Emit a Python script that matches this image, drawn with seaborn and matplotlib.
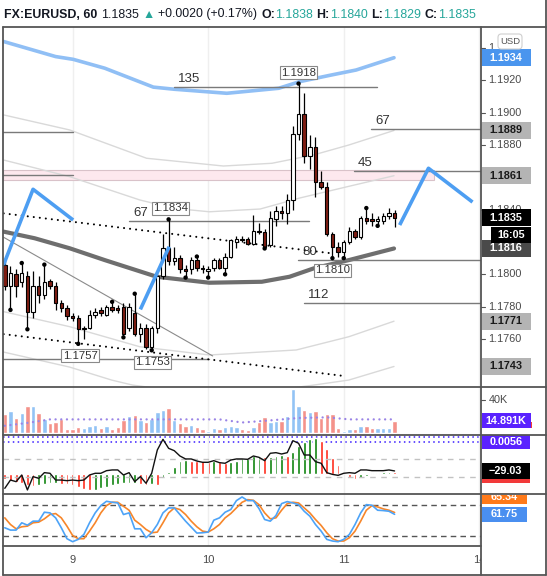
import matplotlib
matplotlib.use("Agg")
import numpy as np
import pandas as pd
import matplotlib.pyplot as plt
import seaborn as sns
from matplotlib.patches import Rectangle, FancyBboxPatch
from matplotlib.transforms import blended_transform_factory as btf

# ---------------- data ----------------
symbol = "FX:EURUSD, 60"
opens = [1.1806, 1.1793, 1.1800, 1.1795, 1.1799, 1.1777, 1.1793, 1.1787, 1.1796, 1.1793,
         1.1782, 1.1779, 1.1774, 1.1773, 1.1766, 1.1767, 1.1775, 1.1778, 1.1775, 1.1780,
         1.1779, 1.1780, 1.1767, 1.1776, 1.1763, 1.1767, 1.1755, 1.1767, 1.1799, 1.1816,
         1.1808, 1.1810, 1.1803, 1.1803, 1.1809, 1.1804, 1.1802, 1.1804, 1.1809, 1.1804,
         1.1811, 1.1820, 1.1822, 1.1822, 1.1819, 1.1827, 1.1826, 1.1818, 1.1834, 1.1839,
         1.1838, 1.1846, 1.1887, 1.1899, 1.1873, 1.1879, 1.1857, 1.1854, 1.1825, 1.1817,
         1.1814, 1.1820, 1.1827, 1.1823, 1.1835, 1.1834, 1.1833, 1.1833, 1.1836, 1.1838]
highs = [1.1809, 1.1805, 1.1803, 1.1807, 1.1802, 1.1802, 1.1799, 1.1806, 1.1797, 1.1795,
         1.1784, 1.1781, 1.1776, 1.1775, 1.1768, 1.1778, 1.1779, 1.1780, 1.1781, 1.1783,
         1.1781, 1.1782, 1.1782, 1.1788, 1.1770, 1.1769, 1.1768, 1.1800, 1.1825, 1.1834,
         1.1817, 1.1812, 1.1806, 1.1811, 1.1811, 1.1806, 1.1805, 1.1810, 1.1810, 1.1813,
         1.1822, 1.1824, 1.1824, 1.1823, 1.1837, 1.1832, 1.1828, 1.1839, 1.1842, 1.1842,
         1.1850, 1.1892, 1.1918, 1.1912, 1.1886, 1.1885, 1.1864, 1.1857, 1.1826, 1.1820,
         1.1821, 1.1829, 1.1828, 1.1836, 1.1841, 1.1838, 1.1836, 1.1838, 1.1841, 1.1840]
lows = [1.1790, 1.1778, 1.1786, 1.1792, 1.1766, 1.1773, 1.1782, 1.1785, 1.1791, 1.1778,
        1.1777, 1.1772, 1.1771, 1.1757, 1.1760, 1.1766, 1.1773, 1.1774, 1.1774, 1.1777,
        1.1776, 1.1761, 1.1765, 1.1762, 1.1758, 1.1754, 1.1753, 1.1764, 1.1797, 1.1806,
        1.1806, 1.1801, 1.1798, 1.1800, 1.1802, 1.1801, 1.1798, 1.1802, 1.1803, 1.1800,
        1.1810, 1.1816, 1.1820, 1.1818, 1.1818, 1.1825, 1.1816, 1.1817, 1.1830, 1.1834,
        1.1831, 1.1840, 1.1883, 1.1869, 1.1865, 1.1848, 1.1853, 1.1824, 1.1810, 1.1811,
        1.1810, 1.1819, 1.1822, 1.1822, 1.1831, 1.1830, 1.1830, 1.1831, 1.1834, 1.1829]
closes = [1.1793, 1.1801, 1.1793, 1.1801, 1.1777, 1.1793, 1.1787, 1.1795, 1.1793, 1.1782,
          1.1779, 1.1774, 1.1773, 1.1766, 1.1767, 1.1775, 1.1777, 1.1776, 1.1780, 1.1778,
          1.1778, 1.1763, 1.1780, 1.1763, 1.1767, 1.1755, 1.1767, 1.1799, 1.1816, 1.1808,
          1.1810, 1.1803, 1.1802, 1.1809, 1.1804, 1.1803, 1.1803, 1.1809, 1.1804, 1.1811,
          1.1821, 1.1822, 1.1821, 1.1819, 1.1827, 1.1826, 1.1817, 1.1835, 1.1839, 1.1838,
          1.1846, 1.1887, 1.1899, 1.1873, 1.1879, 1.1857, 1.1854, 1.1825, 1.1817, 1.1814,
          1.1820, 1.1827, 1.1823, 1.1835, 1.1833, 1.1833, 1.1834, 1.1836, 1.1838, 1.1835]
prev_close = 1.1815
volume_k = [22.8, 26.5, 17.5, 24.5, 32.6, 32.6, 23.6, 16.3, 12.2, 13.5,
            16.3, 4.5, 4.5, 7.3, 6.1, 8.2, 9.4, 6.1, 8.2, 4.5,
            6.5, 15.5, 20.4, 21.6, 15.5, 13.5, 16.3, 25.7, 27.7, 30.6,
            15.5, 12.2, 8.2, 9.4, 7.3, 4.5, 2.4, 6.1, 4.5, 7.3,
            8.2, 7.3, 4.5, 3.3, 7.3, 12.6, 18.8, 12.6, 14.7, 14.7,
            20.8, 53.4, 32.6, 27.7, 25.7, 26.5, 17.5, 22.4, 22.8, 6.1,
            2.4, 4.1, 4.1, 8.2, 8.2, 6.1, 5.3, 5.3, 6.1, 14.891]
vol_ma_x = [0, 4, 8, 24, 38, 42, 46, 52, 57, 61, 69]
vol_ma_k = [8.5, 12.0, 16.3, 16.3, 16.3, 12.5, 14.5, 18.0, 18.8, 16.3, 16.3]
hist_e4 = [-9.3, -11.7, -14.6, -16.3, -18.7, -21.0, -19.8, -17.5, -16.3, -15.2,
           -16.9, -18.1, -19.8, -23.3, -26.8, -28.0, -27.4, -24.5, -22.2, -19.2,
           -17.5, -16.3, -15.7, -15.2, -16.9, -18.7, -17.5, -19.2, -7.6, 4.1,
           12.8, 22.2, 23.9, 23.3, 22.7, 22.2, 21.6, 22.2, 20.4, 19.2,
           21.6, 23.3, 27.4, 28.0, 30.9, 31.5, 29.2, 30.3, 30.9, 32.6,
           32.1, 39.1, 49.6, 56.6, 61.2, 62.4, 57.1, 43.7, 28.0, 15.7,
           4.1, -4.7, -8.7, -7.0, -2.9, 1.2, 1.5, 2.9, 4.1, 3.5]
hist_levels = [0.0056, 0.0064]
cci = [-222, -130, -148, -74, -240, -92, -111, -48, -55, -130,
       -130, -137, -130, -137, -130, -74, -55, -55, -26, -18,
       -18, -74, -48, -148, -92, -166, -55, 204, 322, 222,
       196, 137, 104, 104, 81, 67, 67, 85, 63, 56,
       92, 104, 104, 100, 137, 122, 85, 167, 174, 159,
       174, 307, 278, 148, 148, 74, 56, -48, -67, -78,
       -55, -48, -55, -18, -18, -26, -26, -26, -18, -29.03]
stoch_k = [35.5, 31.0, 31.0, 45.2, 40.6, 48.4, 48.4, 65.8, 64.5, 54.8,
           35.5, 14.2, 8.4, 12.9, 22.6, 45.2, 64.5, 78.7, 87.1, 85.2,
           83.9, 61.3, 64.5, 33.5, 33.5, 16.1, 25.8, 41.9, 64.5, 74.2,
           74.2, 61.3, 48.4, 36.8, 25.2, 25.8, 27.1, 50.3, 54.8, 65.8,
           71.0, 88.4, 95.5, 88.4, 88.4, 72.9, 51.6, 48.4, 59.4, 82.6,
           86.5, 83.9, 80.6, 67.7, 58.1, 41.9, 29.0, 12.9, 9.7, 8.4,
           12.9, 22.6, 41.9, 64.5, 80.6, 79.4, 69.7, 69.0, 67.7, 61.75]
stoch_d = [54.8, 41.9, 33.5, 37.4, 38.7, 45.2, 46.5, 52.9, 61.3, 63.2,
           54.8, 38.7, 20.6, 14.2, 14.2, 29.0, 45.2, 64.5, 78.7, 85.2,
           85.2, 77.4, 69.7, 50.3, 41.9, 32.3, 25.8, 27.1, 45.2, 64.5,
           74.2, 71.0, 61.3, 48.4, 37.4, 29.0, 27.1, 33.5, 41.9, 54.8,
           63.2, 74.2, 85.2, 90.3, 89.0, 80.6, 64.5, 52.9, 54.8, 69.7,
           82.6, 85.2, 83.9, 74.2, 64.5, 51.6, 40.0, 25.8, 14.2, 9.7,
           9.7, 16.1, 29.0, 48.4, 69.7, 78.7, 76.1, 72.3, 69.7, 65.34]
stoch_levels = [80, 20]
cci_levels = [100, -100]
fractal_high_idx = [3, 7, 19, 23, 29, 34, 52, 64]
fractal_low_idx = [1, 4, 13, 21, 26, 32, 36, 39, 46, 58, 60, 66]
labelled_highs = [52, 29]
labelled_lows = [58, 13, 26]
day_ticks = [12, 36, 60, 84]
day_labels = ["9", "10", "11", "14"]
countdown = "16:05"

# band / average lines (bar position, price)
upper_band_x = [-0.2, 9, 12.1, 17.7, 26.3, 30, 39.3, 48.5, 52.2, 57.8, 62.2, 68.9]
upper_band_y = [1.19440, 1.19347, 1.19330, 1.19275, 1.19158, 1.19145, 1.19120, 1.19151,
                1.19192, 1.19233, 1.19264, 1.19340]
env1_x = [-0.2, 11.5, 25.1, 38.7, 47.3, 54.7, 60.9, 68.9]
env1_y = [1.18986, 1.18893, 1.18718, 1.18670, 1.18687, 1.18739, 1.18800, 1.18890]
env2_x = [-0.2, 11.5, 23.9, 30.0, 36.2, 45.2, 52.2, 61.1, 68.9]
env2_y = [1.18707, 1.18604, 1.18460, 1.18408, 1.18387, 1.18404, 1.18472, 1.18546, 1.18610]
ma_x = [-0.2, 5.3, 11.5, 17.7, 26.9, 36.2, 45.5, 50.4, 54.7, 60.9, 68.9]
ma_y = [1.18264, 1.18223, 1.18161, 1.18088, 1.17985, 1.17948, 1.17954, 1.17985, 1.18037,
        1.18088, 1.18160]
env3_x = [-0.2, 11.5, 23.9, 36.2, 51.6, 60.9, 68.9]
env3_y = [1.17769, 1.17676, 1.17552, 1.17501, 1.17532, 1.17614, 1.17710]
env4_x = [-0.2, 11.5, 18.9, 22.6, 30, 45, 54.7, 60.9, 68.9]
env4_y = [1.17519, 1.17426, 1.17346, 1.17315, 1.17280, 1.17270, 1.17315, 1.17346, 1.17430]

# drawings
zig_a_x, zig_a_y = [-0.23, 5.0, 12.1], [1.18058, 1.18526, 1.18336]
zig_b_x, zig_b_y = [24.0, 29.1], [1.17783, 1.18171]
zig_c_x, zig_c_y = [69.9, 75.0, 82.8], [1.18305, 1.18656, 1.18447]
trend_up_x, trend_up_y = [-0.2, 57.6], [1.18377, 1.18131]
trend_dn_x, trend_dn_y = [-0.2, 60.3], [1.17630, 1.17370]
thin_diag_x, thin_diag_y = [-0.2, 36.8], [1.18229, 1.17495]
zone_x = [-0.32, 76.0]
zone_y = [1.18582, 1.18644]
level_names = ["135", "67", "45", "67", "80", "112", "", "", ""]
level_price = [1.19160, 1.18900, 1.18638, 1.18330, 1.18088, 1.17820, 1.18883, 1.18617, 1.17476]
level_x0 = [30.0, 64.9, 61.8, 22.0, 51.9, 52.9, -0.32, -0.32, -0.32]
level_x1 = [65.9, 84.3, 84.3, 53.8, 84.3, 84.3, 12.1, 12.1, 36.2]
# visible price-scale ticks (the others are covered by value boxes)
price_ticks = [1.1760, 1.1780, 1.1800, 1.1880, 1.1900, 1.1920]
half_hidden_tick = 1.1840
cut_tick = 1.1940

# ---------------- figure ----------------
sns.set_theme(style="white")
plt.rcParams["font.family"] = ["Liberation Sans", "DejaVu Sans"]

W, H = 547, 576
fig = plt.figure(figsize=(W / 100, H / 100), dpi=100)
fig.patch.set_facecolor("white")
XL, XR, XE = 3, 481, 545.5
XLIM = (-0.32, 84.3)
TXT = "#4a4a4a"
RED_C = "#7f1d12"


def pane(top, bottom):
    a = fig.add_axes([XL / W, 1 - bottom / H, (XR - XL) / W, (bottom - top) / H])
    a.set_axis_off()
    a.set_xlim(*XLIM)
    return a


P_MAIN, P_VOL, P_OSC, P_STO = (27, 387), (387, 435), (435, 494), (494, 546)
ax = pane(*P_MAIN)
axv = pane(*P_VOL)
axo = pane(*P_OSC)
axh = axo.twinx()
axh.set_axis_off()
axh.set_xlim(*XLIM)
axs = pane(*P_STO)

ax.set_ylim(1.17303, 1.19530)
axv.set_ylim(-2.8, 55.9)
axo.set_ylim(-285, 370)
axh.set_ylim(-35.0e-4, 68.2e-4)
axs.set_ylim(0, 101.3)

bars = np.arange(len(closes))
o, h, l, c = map(np.array, (opens, highs, lows, closes))
up = c >= o

for a in (ax, axv, axo, axs):
    for d in day_ticks:
        a.axvline(d, color="#efefef", lw=1, zorder=0)

# pink zone
ax.add_patch(Rectangle((zone_x[0], zone_y[0]), zone_x[1] - zone_x[0], zone_y[1] - zone_y[0],
                       fc="#fde8ee", ec="#d9c2c9", lw=0.8, zorder=1))

# bands
for bx, by, col, lw in [(env1_x, env1_y, "#d9d9d9", 1.0), (env2_x, env2_y, "#d9d9d9", 1.0),
                        (env3_x, env3_y, "#d9d9d9", 1.0), (env4_x, env4_y, "#d9d9d9", 1.0),
                        (upper_band_x, upper_band_y, "#90bff5", 2.6), (ma_x, ma_y, "#6e6e6e", 3.0)]:
    sns.lineplot(x=bx, y=by, ax=ax, color=col, lw=lw, zorder=2, legend=False)

# levels
for name, p, x0, x1 in zip(level_names, level_price, level_x0, level_x1):
    ax.plot([x0, x1], [p, p], color="#7a7a7a", lw=1.0, zorder=3)
    if name:
        ax.annotate(name, (x0, p), xytext=(4, 2), textcoords="offset pixels",
                    ha="left", va="bottom", fontsize=9.5, color="#333333", zorder=6)

# trend lines
dot_style = dict(color="black", lw=1.5, dashes=(0.01, 2.9), dash_capstyle="round", zorder=3)
ax.plot(trend_up_x, trend_up_y, **dot_style)
ax.plot(trend_dn_x, trend_dn_y, **dot_style)
ax.plot(thin_diag_x, thin_diag_y, color="#8a8a8a", lw=0.8, zorder=3)

# candles
ax.vlines(bars, l, h, color="black", lw=0.9, zorder=4)
body_lo = np.minimum(o, c)
body_h = np.maximum(np.abs(c - o), 0.00004)
ax.bar(bars, body_h, bottom=body_lo, width=0.6, color=np.where(up, "white", RED_C),
       edgecolor="black", linewidth=0.8, zorder=5)
sns.scatterplot(x=bars[fractal_high_idx], y=h[fractal_high_idx], ax=ax, s=10, color="black",
                edgecolor="none", zorder=6, legend=False)
sns.scatterplot(x=bars[fractal_low_idx], y=l[fractal_low_idx], ax=ax, s=10, color="black",
                edgecolor="none", zorder=6, legend=False)

# blue zigzags
for zx, zy in [(zig_a_x, zig_a_y), (zig_b_x, zig_b_y), (zig_c_x, zig_c_y)]:
    ax.plot(zx, zy, color="#4d9ef2", lw=2.6, solid_capstyle="butt", zorder=7, clip_on=True)

# price labels on highs / lows
box = dict(boxstyle="square,pad=0.12", fc="white", ec="#8a8a8a", lw=0.8)
for i, dx in zip(labelled_highs, [0, 2]):
    ax.annotate(f"{h[i]:.4f}", (bars[i], h[i]), xytext=(dx, 11), textcoords="offset pixels",
                ha="center", va="center", fontsize=8.2, color="#333333", bbox=box, zorder=8)
for i, dx in zip(labelled_lows, [0, 2, 1]):
    ax.annotate(f"{l[i]:.4f}", (bars[i], l[i]), xytext=(dx, -12), textcoords="offset pixels",
                ha="center", va="center", fontsize=8.2, color="#333333", bbox=box, zorder=8)

# volume
vcol = np.where(up, "#92c3f5", "#f4928a")
axv.bar(bars, volume_k, width=0.78, color=vcol, zorder=2)
axv.plot(vol_ma_x, vol_ma_k, color="#9a84e6", lw=1.7, dashes=(0.01, 2.4),
         dash_capstyle="round", zorder=3)

# histogram + cci
hv = np.array(hist_e4) * 1e-4
hcol = ["#ff2a1a" if (i == 0 or hv[i] < hv[i - 1]) else "#0b820b" for i in range(len(hv))]
axh.bar(bars, hv, width=0.5, color=hcol, zorder=2)
for lv in hist_levels:
    axh.axhline(lv, color="#3a1dff", lw=1.1, dashes=(1, 2.2), zorder=1)
for lv in cci_levels:
    axo.axhline(lv, color="#c2c2c2", lw=1.0, dashes=(4, 4), zorder=1)
axh.set_zorder(axo.get_zorder() - 0.5)
axo.patch.set_visible(False)
sns.lineplot(x=bars, y=cci, ax=axo, color="#111111", lw=1.0, zorder=4, legend=False)

# stochastic
for lv in stoch_levels:
    axs.axhline(lv, color="#555555", lw=1.0, dashes=(4, 3), zorder=1)
sns.lineplot(x=bars, y=stoch_d, ax=axs, color="#f7862a", lw=1.2, zorder=3, legend=False)
sns.lineplot(x=bars, y=stoch_k, ax=axs, color="#4da3f7", lw=1.2, zorder=4, legend=False)

# ---------------- price scale ----------------
def unit(a, pane_px):
    lo, hi = a.get_ylim()
    return (hi - lo) / (pane_px[1] - pane_px[0])


def scale_box(a, pane_px, y, text, fc, tc, hpx=17, x0=481.5, x1=531, fs=7.8, clip=None):
    tr = btf(fig.transFigure, a.transData)
    hd = hpx * unit(a, pane_px)
    r = Rectangle((x0 / W, y - hd / 2), (x1 - x0) / W, hd, transform=tr, fc=fc, ec="none",
                  zorder=20)
    a.add_artist(r)
    arts = [r]
    if text:
        arts.append(a.text((x0 + x1) / 2 / W, y, text, transform=tr, ha="center", va="center",
                           color=tc, fontsize=fs, weight="bold", zorder=21))
    for art in arts:
        if clip is not None:
            art.set_clip_on(True)
            art.set_clip_path(clip)
        else:
            art.set_clip_on(False)


def scale_tick(a, y, text, clip=None):
    tr = btf(fig.transFigure, a.transData)
    a.plot([XR / W, (XR + 4) / W], [y, y], transform=tr, color="#555555", lw=0.8, clip_on=False)
    t = a.text(488.5 / W, y, text, transform=tr, ha="left", va="center", color=TXT, fontsize=7.8,
               clip_on=False, zorder=15)
    if clip is not None:
        t.set_clip_on(True)
        t.set_clip_path(clip)


for p in price_ticks:
    scale_tick(ax, p, f"{p:.4f}")
# 1.1840 shows only above the last-price box; 1.1940 only left of the USD badge
clip_top = Rectangle((0, 1 - 208.5 / H), 1, 208.5 / H, transform=fig.transFigure)
scale_tick(ax, half_hidden_tick, f"{half_hidden_tick:.4f}", clip=clip_top)
scale_tick(ax, cut_tick, f"{cut_tick:.4f}"[:2])

u = unit(ax, P_MAIN)
scale_box(ax, P_MAIN, upper_band_y[-1], f"{upper_band_y[-1]:.4f}", "#4a95ee", "white")
scale_box(ax, P_MAIN, env1_y[-1], f"{env1_y[-1]:.4f}", "#b4b4b4", "#1a1a1a")
scale_box(ax, P_MAIN, env2_y[-1], f"{env2_y[-1]:.4f}", "#b4b4b4", "#1a1a1a")
scale_box(ax, P_MAIN, ma_y[-1], f"{ma_y[-1]:.4f}", "#4a4a4a", "white")
scale_box(ax, P_MAIN, env3_y[-1], f"{env3_y[-1]:.4f}", "#b4b4b4", "#1a1a1a")
scale_box(ax, P_MAIN, env4_y[-1], f"{env4_y[-1]:.4f}", "#b4b4b4", "#1a1a1a")
scale_box(ax, P_MAIN, closes[-1], f"{closes[-1]:.4f}", "black", "white")
scale_box(ax, P_MAIN, closes[-1] - 17.3 * u, countdown, "black", "white", hpx=16, x0=491)

# USD badge
usd = FancyBboxPatch((498 / W, 1 - 49 / H), 24 / W, 15 / H, boxstyle="round,pad=0,rounding_size=0.006",
                     transform=fig.transFigure, fc="white", ec="#cfcfcf", lw=0.8, zorder=30)
fig.add_artist(usd)
fig.text(510 / W, 1 - 41.5 / H, "USD", ha="center", va="center", fontsize=6.8, color="#555555",
         zorder=31)

# volume scale
scale_tick(axv, 40, "40K")
scale_box(axv, P_VOL, volume_k[-1] - 5.0, "", "#f23a3a", "white", hpx=6, x0=481.5, x1=532)
scale_box(axv, P_VOL, volume_k[-1], f"{volume_k[-1]:.3f}K", "#5a22ff", "white", hpx=15)
# oscillator scale
scale_box(axo, P_OSC, cci[-1] - 10.5 * unit(axo, P_OSC), "", "#f23a3a", "white", hpx=4, x1=530)
scale_box(axo, P_OSC, cci[-1], f"{cci[-1]:.2f}".replace("-", "\u2212"), "black", "white",
          hpx=15.5, x1=530)
scale_box(axh, P_OSC, hist_levels[0], f"{hist_levels[0]:.4f}", "#5a22ff", "white", hpx=14,
          x1=530)
# stochastic scale (orange value box pushed up and cut by the pane edge)
clip_sto = Rectangle((0, 0), 1, 1 - 494.8 / H, transform=fig.transFigure)
scale_box(axs, P_STO, stoch_d[-1] + 31.0, f"{stoch_d[-1]:.2f}", "#ff7a1a", "white", hpx=15,
          x1=527, clip=clip_sto)
scale_box(axs, P_STO, stoch_k[-1], f"{stoch_k[-1]:.2f}", "#4a8ff0", "white", hpx=15.5, x1=527)

# day labels
clip_x = Rectangle((0, 0), XR / W, 1, transform=fig.transFigure)
trx = btf(axs.transData, fig.transFigure)
for d, lab in zip(day_ticks, day_labels):
    t = axs.text(d, 1 - 560 / H, lab, transform=trx, ha="center", va="center", fontsize=8,
                 color=TXT)
    t.set_clip_on(True)
    t.set_clip_path(clip_x)

# ---------------- frame and separators ----------------
def hline(y, x0, x1, col="#555555", lw=1.3):
    fig.add_artist(plt.Line2D([x0 / W, x1 / W], [1 - y / H, 1 - y / H], color=col, lw=lw, zorder=40))


def vline(x, y0, y1, col="#555555", lw=1.3):
    fig.add_artist(plt.Line2D([x / W, x / W], [1 - y0 / H, 1 - y1 / H], color=col, lw=lw, zorder=40))


hline(27, XL, XE)
hline(387, XL, XE)
hline(435, XL, XE)
hline(494.3, XL, XE)
hline(546.3, XL, XR)
hline(574.5, XL, XE)
vline(XL, 27, 574.5)
vline(XR, 27, 574.5)
vline(XE, 0, 574.5)

# ---------------- header ----------------
teal = "#26a69a"
dark = "#131722"
chg = closes[-1] - prev_close
pieces = [(symbol, "bold", dark), (f"{closes[-1]:.4f}", "normal", dark), ("\u25b2", "normal", teal),
          (f"+{chg:.4f} (+{chg / prev_close * 100:.2f}%)", "normal", dark),
          ("O:", "bold", dark), (f"{opens[-1]:.4f}", "normal", teal),
          ("H:", "bold", dark), (f"{highs[-1]:.4f}", "normal", teal),
          ("L:", "bold", dark), (f"{lows[-1]:.4f}", "normal", teal),
          ("C:", "bold", dark), (f"{closes[-1]:.4f}", "normal", teal)]
gap_after = [1, 1, 1, 1, 0, 1, 0, 1, 0, 1, 0, 0]
renderer = fig.canvas.get_renderer()


def draw_header(fs):
    x = 4.0
    arts = []
    for (txt, wt, col), g in zip(pieces, gap_after):
        t = fig.text(x / W, 1 - 17.5 / H, txt, fontsize=fs, weight=wt, color=col, ha="left",
                     va="baseline", zorder=50)
        arts.append(t)
        x += t.get_window_extent(renderer).width + g * fs * 100 / 72 * 0.30
    return x, arts


end, arts = draw_header(8.5)
for t in arts:
    t.remove()
fs = 8.5 * (473.5 - 4) / (end - 4)
draw_header(fs)

fig.savefig("out.png", dpi=100, facecolor="white")
